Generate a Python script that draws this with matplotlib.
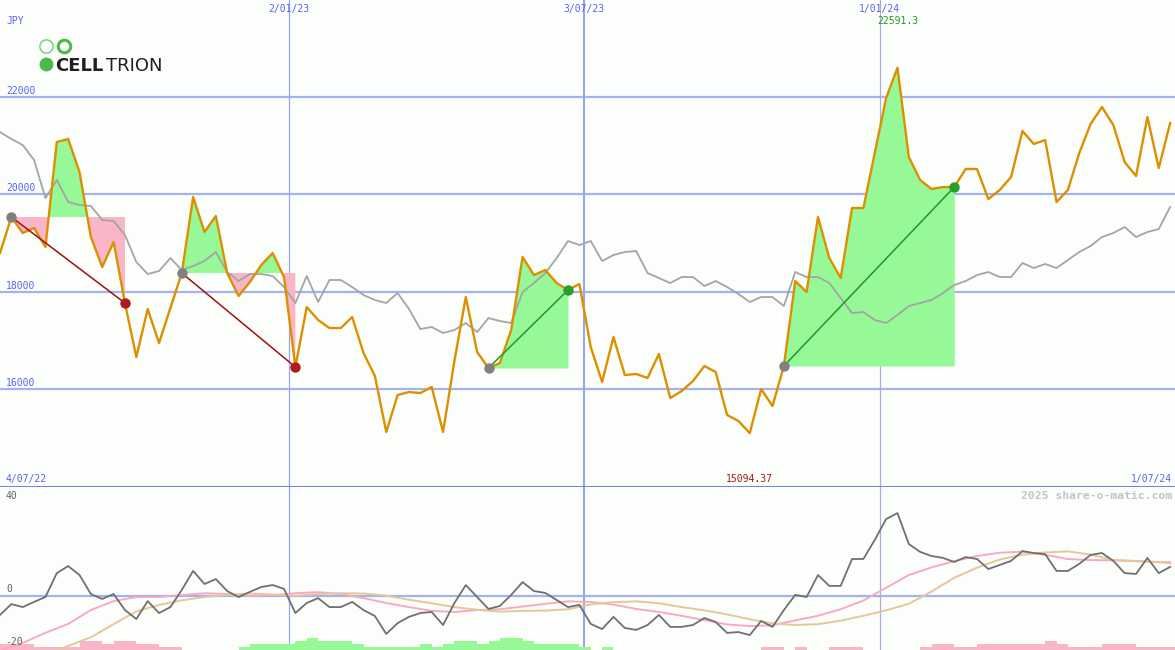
import matplotlib
matplotlib.use("Agg")
import matplotlib.pyplot as plt
import matplotlib.dates as mdates
import matplotlib.transforms as mtransforms
import numpy as np
import pandas as pd

# weekly closes (JPY), first week ends 8 Jul 2022
dates = pd.date_range("2022-07-08", periods=104, freq="7D")

price = [18790, 19528, 19200, 19303, 18913, 21067, 21128, 20451, 19118, 18503,
         19015, 17764, 16656, 17641, 16944, 17662, 18379, 19938, 19220, 19549,
         18379, 17908, 18195, 18544, 18790, 18297, 16451, 17682, 17415, 17251,
         17251, 17477, 16738, 16267, 15118, 15877, 15938, 15918, 16041, 15118,
         16574, 17887, 16759, 16431, 16533, 17210, 18708, 18338, 18441, 18174,
         18031, 18154, 16862, 16144, 17067, 16287, 16308, 16226, 16718, 15815,
         15959, 16164, 16472, 16349, 15467, 15344, 15094.37, 16000, 15651, 16472,
         18215, 17990, 19528, 18687, 18277, 19713, 19713, 20841, 21969, 22591.3,
         20759, 20287, 20103, 20144, 20144, 20513, 20513, 19897, 20082, 20349,
         21292, 21026, 21108, 19836, 20082, 20841, 21436, 21785, 21415, 20656,
         20369, 21579, 20533, 21456]

average = [21272, 21128, 21005, 20697, 19918, 20287, 19836, 19774, 19754, 19467,
           19446, 19159, 18605, 18359, 18420, 18687, 18441, 18523, 18626, 18810,
           18400, 18215, 18359, 18359, 18318, 18092, 17764, 18318, 17785, 18236,
           18236, 18092, 17928, 17826, 17764, 17969, 17641, 17231, 17272, 17149,
           17210, 17354, 17169, 17456, 17395, 17354, 17990, 18174, 18379, 18687,
           19036, 18954, 19036, 18626, 18749, 18810, 18831, 18379, 18277, 18174,
           18297, 18297, 18113, 18215, 18092, 17949, 17785, 17887, 17887, 17703,
           18400, 18297, 18297, 18174, 17867, 17559, 17579, 17415, 17354, 17518,
           17703, 17764, 17826, 17969, 18133, 18215, 18338, 18400, 18297, 18297,
           18585, 18482, 18564, 18482, 18646, 18810, 18933, 19118, 19200, 19323,
           19118, 19220, 19282, 19733]

# entry / exit week of each trade
trades = [(1, 11), (16, 26), (43, 50), (69, 84)]

osc = [-7.1, -3.1, -4.2, -2.3, -0.5, 8.3, 10.9, 7.6, 0.6, -1.2,
       0.6, -5.3, -8.6, -2.0, -6.4, -4.2, 2.1, 9.1, 4.3, 6.1,
       1.7, -0.5, 1.4, 3.2, 3.9, 2.5, -6.4, -2.7, -0.9, -4.2,
       -4.2, -2.3, -5.3, -7.5, -14.1, -10.1, -7.8, -6.4, -6.0, -10.8,
       -2.7, 3.9, -0.5, -4.9, -3.8, 0.3, 5.0, 1.7, 1.0, -1.6,
       -4.2, -3.4, -10.4, -12.3, -7.8, -11.9, -12.6, -10.8, -7.1, -11.5,
       -11.5, -10.8, -8.2, -9.7, -13.7, -13.4, -14.5, -9.3, -11.5, -5.3,
       0.3, -0.5, 7.6, 3.6, 3.6, 13.5, 13.5, 20.5, 28.2, 30.4,
       19.0, 16.1, 14.6, 13.9, 12.4, 14.2, 13.5, 9.8, 11.3, 12.8,
       16.4, 15.7, 15.3, 9.1, 9.1, 11.7, 15.0, 15.7, 12.8, 8.3,
       8.0, 13.9, 8.3, 10.6]

# smoothed signals, read every second week
sig_idx = list(range(0, 104, 2)) + [103]
sig_pink = [-20.5, -17.4, -13.7, -10.4, -5.3, -2.0, -0.5, -0.5, 0.2, 0.9,
            0.6, -0.1, 0.2, 0.9, 1.3, 0.6, -0.9, -2.7, -4.2, -5.6,
            -6.0, -5.3, -5.0, -4.0, -3.0, -2.1, -2.3, -3.3, -4.9, -6.0,
            -7.4, -9.0, -10.6, -11.2, -10.9, -9.1, -7.4, -5.0, -1.8, 2.9,
            7.6, 10.4, 12.7, 14.6, 15.8, 16.2, 15.0, 13.5, 13.1, 13.0,
            12.7, 12.3, 12.0]
sig_tan = [-28.0, -25.0, -21.8, -18.5, -15.3, -10.5, -5.8, -3.4, -1.7, -0.5,
           0.3, 0.8, 0.4, 0.0, 0.6, 0.9, 0.8, 0.0, -1.5, -2.8,
           -4.2, -5.2, -5.9, -5.6, -5.5, -5.0, -3.2, -2.4, -2.1, -2.8,
           -4.2, -5.4, -6.9, -8.7, -10.2, -10.8, -10.5, -9.2, -7.4, -5.4,
           -3.0, 1.5, 6.6, 10.3, 13.3, 15.1, 15.9, 16.3, 15.1, 13.1,
           12.8, 12.4, 12.4]

bars = [-2.2, -2.2, -2.2, -1.1, -1.1, -1.1, -1.1, -3.3, -3.3, -2.2,
        -3.3, -3.3, -2.2, -2.2, -1.1, -1.1, 0, 0, 0, 0,
        0, 1.1, 2.2, 2.2, 2.2, 2.2, 3.3, 4.4, 3.3, 3.3,
        3.3, 2.2, 1.1, 1.1, 1.1, 1.1, 1.1, 2.2, 1.1, 2.2,
        3.3, 3.3, 2.2, 3.3, 4.4, 4.4, 3.3, 2.2, 2.2, 2.2,
        2.2, 1.1, 0, 1.1, 0, 0, 0, 0, 0, 0,
        0, 0, 0, 0, 0, 0, 0, -1.1, -1.1, 0,
        -1.1, 0, 0, -1.1, -1.1, -1.1, 0, 0, 0, 0,
        0, -1.1, -2.2, -2.2, -1.1, -1.1, -2.2, -2.2, -2.2, -2.2,
        -2.2, -2.2, -3.3, -2.2, -1.1, -1.1, -1.1, -2.2, -2.2, -2.2,
        -1.1, -1.1, -1.1, -1.1]

grid_levels = [16000, 18000, 20000, 22000]
grid_dates = ["2023-01-02", "2023-07-03", "2024-01-01"]
grid_labels = ["2/01/23", "3/07/23", "1/01/24"]

BG = "#fcfefc"
GRID = "#a4b2f2"
BLUE_TXT = "#5a62ee"
MONO = "DejaVu Sans Mono"

W, H = 1175, 650
fig = plt.figure(figsize=(W / 100, H / 100), dpi=100)
fig.patch.set_facecolor(BG)

ax = fig.add_axes([0, 163 / H, 1, 487 / H])
ax2 = fig.add_axes([0, 0, 1, 163 / H])

x0 = pd.Timestamp("2022-07-08")
x1 = pd.Timestamp("2024-07-01")
for a in (ax, ax2):
    a.set_facecolor(BG)
    a.set_xlim(x0, x1)
    a.set_xticks([])
    a.set_yticks([])
    for s in a.spines.values():
        s.set_visible(False)

ax.set_ylim(13990, 23980)
ax2.set_ylim(-20, 40)

# grid
for lv in grid_levels:
    ax.axhline(lv, color=GRID, lw=1.6, zorder=1)
ax2.axhline(0, color=GRID, lw=1.6, zorder=1)
widths = [0.9, 1.5, 0.9]
vcols = ["#98a6f0", "#98a6f0", "#a8aed8"]
for d, w, c in zip(grid_dates, widths, vcols):
    ax.axvline(pd.Timestamp(d), color=c, lw=w, zorder=1)
    ax2.axvline(pd.Timestamp(d), color=c, lw=w, zorder=1)

# separator between panels
ax.axhline(13990, color="#7482ec", lw=2.2, zorder=5, clip_on=False)

# trade shading
p = np.array(price)
for a, b in trades:
    xs = dates[a:b + 1]
    ys = p[a:b + 1]
    base = p[a]
    ax.fill_between(xs, ys, base, where=ys >= base, interpolate=True,
                    color="#96f896", lw=0, zorder=2)
    ax.fill_between(xs, ys, base, where=ys <= base, interpolate=True,
                    color="#f9b6c8", lw=0, zorder=2)

ax.plot(dates, average, color="#a4a4a4", lw=1.3, zorder=3)
ax.plot(dates, price, color="#dc9000", lw=1.7, zorder=4)

for a, b in trades:
    win = p[b] > p[a]
    lc = "#22962a" if win else "#9e1010"
    dc = "#27a02b" if win else "#b01c1c"
    ax.plot([dates[a], dates[b]], [p[a], p[b]], color=lc, lw=1.1, zorder=5)
    ax.plot(dates[a], p[a], "o", color="#808080", ms=7.5, mec="none", zorder=6)
    ax.plot(dates[b], p[b], "o", color=dc, ms=7.5, mec="none", zorder=6)

# lower panel
cols = ["#96f896" if v > 0 else "#f9b6c8" for v in bars]
ax2.bar(dates, np.abs(bars), width=7, align="edge", bottom=-20, color=cols,
        lw=0, zorder=2)
sd = dates[sig_idx]
ax2.plot(sd, sig_pink, color="#f8aac4", lw=1.4, zorder=3)
ax2.plot(sd, sig_tan, color="#e4c898", lw=1.4, zorder=3)
ax2.plot(dates, osc, color="#707070", lw=1.3, zorder=4)

# text
def fy(py):
    return 1 - py / H

def fx(px):
    return px / W

fig.text(fx(6), fy(21), "JPY", color=BLUE_TXT, family=MONO, fontsize=7,
         va="center", ha="left")
tr = mtransforms.blended_transform_factory(ax.transData, fig.transFigure)
for d, lab in zip(grid_dates, grid_labels):
    fig.text(mdates.date2num(pd.Timestamp(d)), fy(9), lab, transform=tr,
             color=BLUE_TXT, family=MONO, fontsize=7, ha="center", va="center")

imax = int(np.argmax(p))
imin = int(np.argmin(p))
fig.text(mdates.date2num(dates[imax]), fy(21), f"{p[imax]:g}", transform=tr,
         color="#229922", family=MONO, fontsize=7, ha="center", va="center")
fig.text(mdates.date2num(dates[imin]), fy(479), f"{p[imin]:.2f}", transform=tr,
         color="#a01818", family=MONO, fontsize=7, ha="center", va="center")

for lv in grid_levels:
    ax.annotate(str(lv), xy=(fx(6), lv), xycoords=ax.get_yaxis_transform(),
                xytext=(0, 4), textcoords="offset points", color=BLUE_TXT,
                family=MONO, fontsize=7, ha="left", va="center")

fig.text(fx(6), fy(479), "4/07/22", color=BLUE_TXT, family=MONO, fontsize=7,
         ha="left", va="center")
fig.text(fx(1172), fy(479), "1/07/24", color=BLUE_TXT, family=MONO, fontsize=7,
         ha="right", va="center")
fig.text(fx(1172), fy(496), "2025 share-o-matic.com", color="#c4c4c4",
         family=MONO, fontsize=8.2, fontweight="bold", ha="right", va="center")

fig.text(fx(6), fy(496), "40", color="#606060", family=MONO, fontsize=7,
         ha="left", va="center")
fig.text(fx(6), fy(589), "0", color="#606060", family=MONO, fontsize=7,
         ha="left", va="center")
fig.text(fx(5), fy(642), "-20", color="#606060", family=MONO, fontsize=7,
         ha="left", va="center")

# logo
fig.add_artist(plt.Line2D([fx(46)], [fy(46)], marker="o", ms=9.5, mfc="none",
                          mec="#7cd07c", mew=1.1))
fig.add_artist(plt.Line2D([fx(64)], [fy(46)], marker="o", ms=9.0, mfc="none",
                          mec="#4cb848", mew=2.2))
fig.add_artist(plt.Line2D([fx(46)], [fy(64)], marker="o", ms=10, mfc="#4cb848",
                          mec="none"))
fig.text(fx(55), fy(71), "CELL", color="#231f20", family="DejaVu Sans",
         fontsize=13, fontweight="bold", ha="left", va="baseline")
fig.text(fx(106), fy(71), "TRION", color="#231f20", family="DejaVu Sans",
         fontsize=13, fontweight="normal", ha="left", va="baseline")

fig.savefig("out.png", dpi=100, facecolor=BG)
